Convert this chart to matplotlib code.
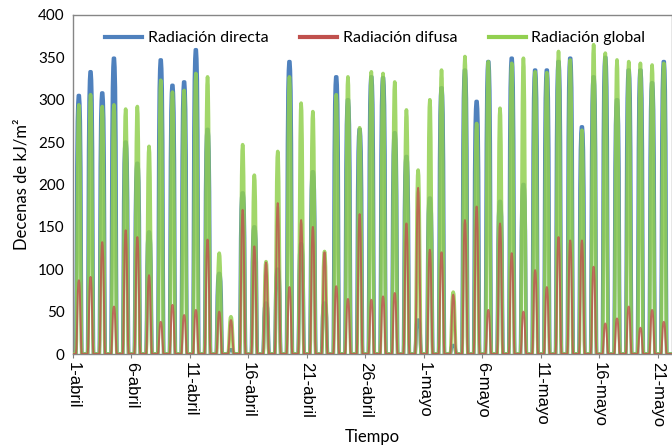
import numpy as np
import matplotlib
matplotlib.use("Agg")
import matplotlib.pyplot as plt

# Daily peak values (decenas de kJ/m2), days from 1-abril
directa_pico = [305, 333, 308, 349, 250, 225, 144, 347, 317, 321, 359, 265, 95, 5,
                190, 150, 60, 100, 345, 130, 215, 60, 327, 300, 265, 327, 326, 261,
                233, 40, 184, 314, 10, 335, 298, 345, 180, 349, 200, 335, 335, 345,
                349, 268, 327, 350, 300, 335, 335, 320, 345, 310]
difusa_pico = [87, 91, 132, 56, 146, 138, 93, 38, 58, 46, 52, 135, 50, 40, 170, 127,
               108, 178, 79, 158, 150, 120, 80, 65, 165, 64, 68, 72, 154, 196, 123,
               120, 70, 158, 174, 52, 154, 119, 50, 99, 79, 138, 134, 134, 103, 36,
               42, 56, 31, 52, 38, 40]
global_pico = [294, 306, 292, 294, 289, 292, 245, 323, 309, 311, 331, 327, 119, 44,
               247, 211, 109, 239, 327, 296, 286, 121, 306, 327, 267, 333, 331, 321,
               288, 217, 300, 335, 73, 351, 272, 345, 290, 343, 349, 333, 332, 357,
               347, 264, 365, 355, 347, 345, 343, 341, 343, 320]

# Normalised hourly profiles (hours 0..23)
perfil_directa = [0, 0, 0, 0, 0, 0, 0, 0.3, 0.72, 0.9, 0.97, 1.0, 1.0, 1.0,
                  0.97, 0.9, 0.72, 0.3, 0, 0, 0, 0, 0, 0]
perfil_difusa = [0, 0, 0, 0, 0, 0, 0, 0.08, 0.3, 0.6, 0.85, 0.97, 1.0, 0.97,
                 0.85, 0.6, 0.3, 0.08, 0, 0, 0, 0, 0, 0]
perfil_global = [0, 0, 0, 0, 0, 0, 0, 0.06, 0.3, 0.6, 0.85, 0.97, 1.0, 0.97,
                 0.85, 0.6, 0.3, 0.06, 0, 0, 0, 0, 0, 0]

tick_dias = [0, 5, 10, 15, 20, 25, 30, 35, 40, 45, 50]
tick_labels = ["1-abril", "6-abril", "11-abril", "16-abril", "21-abril", "26-abril",
               "1-mayo", "6-mayo", "11-mayo", "16-mayo", "21-mayo"]


def serie(picos, perfil):
    return np.concatenate([p * np.array(perfil) for p in picos])


directa = serie(directa_pico, perfil_directa)
difusa = serie(difusa_pico, perfil_difusa)
glob = serie(global_pico, perfil_global)
horas = np.arange(len(directa))

fig = plt.figure(figsize=(6.72, 4.48), dpi=100)
ax = fig.add_axes([73 / 672, 94 / 448, 1 - 73 / 672, (354 - 15) / 448])

c_dir = "#4F81BD"
c_dif = "#C0504D"
c_glo = "#92D050"
ax.plot(horas, directa, color=c_dir, lw=2.6, label="Radiación directa", zorder=2)
ax.plot(horas, glob, color=c_glo, lw=2.6, alpha=0.85, label="Radiación global", zorder=3)
ax.plot(horas, difusa, color=c_dif, lw=1.4, alpha=0.8, label="Radiación difusa", zorder=4)

ax.set_xlim(0, 51.2 * 24)
ax.set_ylim(0, 400)
ax.set_yticks(np.arange(0, 401, 50))
ax.set_xticks([d * 24 for d in tick_dias])
ax.set_xticklabels(tick_labels, rotation=-90, fontsize=12, family="Liberation Sans")
for lab in ax.get_yticklabels():
    lab.set_fontsize(11)
    lab.set_family("Lato")
ax.tick_params(axis="y", length=0, pad=6)
ax.tick_params(axis="x", length=3, color="#808080", pad=3)
for s in ax.spines.values():
    s.set_color("#868686")
    s.set_linewidth(1)

ax.set_ylabel("Decenas de kJ/m²", fontsize=12, family="Lato", labelpad=6)
ax.set_xlabel("Tiempo", fontsize=12, family="Lato", labelpad=1)

h, l = ax.get_legend_handles_labels()
orden = [0, 2, 1]
leg = ax.legend([h[i] for i in orden], [l[i] for i in orden],
                loc="upper center", bbox_to_anchor=(0.505, 0.995), ncol=3, frameon=False,
                prop={"family": "Lato", "size": 11.5}, handlelength=2.3,
                columnspacing=2.0, handletextpad=0.35)
for hl in leg.get_lines():
    hl.set_linewidth(3)
    hl.set_alpha(1)

fig.savefig("out.png", dpi=100)
